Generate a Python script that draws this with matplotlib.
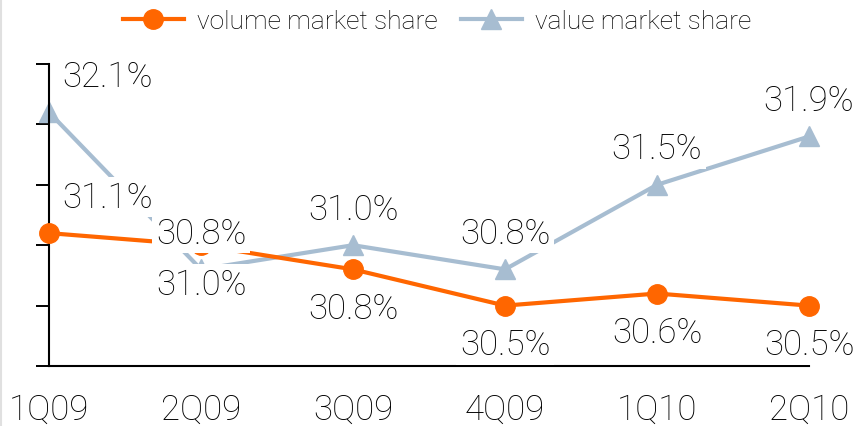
import matplotlib
matplotlib.use("Agg")
import matplotlib.pyplot as plt
from matplotlib.lines import Line2D

# quarters and market share values (%)
quarters = ["1Q09", "2Q09", "3Q09", "4Q09", "1Q10", "2Q10"]
volume_share = [31.1, 31.0, 30.8, 30.5, 30.6, 30.5]
value_share = [32.1, 30.8, 31.0, 30.8, 31.5, 31.9]

ORANGE = "#FF6600"
BLUE = "#A7BDD1"
TEXT = "black"

plt.rcParams["font.family"] = ["Roboto", "DejaVu Sans"]

fig = plt.figure(figsize=(8.57, 4.27), dpi=100)
ax = fig.add_axes([0.0572, 0.1405, 0.8868, 0.7073])

x = list(range(len(quarters)))

ax.plot(x, volume_share, color=ORANGE, lw=3, marker="o", ms=14,
        label="volume market share", clip_on=False, zorder=3)
ax.plot(x, value_share, color=BLUE, lw=3, marker="^", ms=15,
        label="value market share", clip_on=False, zorder=2)

label_kw = dict(textcoords="offset points", ha="center", va="center",
                fontsize=25, fontweight="light", color=TEXT, zorder=5,
                bbox=dict(boxstyle="square,pad=0.1", fc="white", ec="none"))

for i, (vol, val) in enumerate(zip(volume_share, value_share)):
    if i == 0:
        # first quarter: both labels sit above-right of the point
        ax.annotate(f"{vol:.1f}%", (i, vol), xytext=(42, 26), **label_kw)
        ax.annotate(f"{val:.1f}%", (i, val), xytext=(42, 26), **label_kw)
    else:
        ax.annotate(f"{vol:.1f}%", (i, vol), xytext=(0, -28), **label_kw)
        ax.annotate(f"{val:.1f}%", (i, val), xytext=(0, 26), **label_kw)

ax.set_xlim(0, len(quarters) - 1)
ax.set_ylim(30.0, 32.5)
ax.set_yticks([30.0, 30.5, 31.0, 31.5, 32.0, 32.5])
ax.set_yticklabels([])
ax.set_xticks(x)
ax.set_xticklabels(quarters, fontsize=25, fontweight="light", color=TEXT)

ax.tick_params(axis="y", direction="out", length=9.5, width=1.4, color="black")
ax.tick_params(axis="x", length=0, pad=19)

for side in ["top", "right"]:
    ax.spines[side].set_visible(False)
for side in ["left", "bottom"]:
    ax.spines[side].set_linewidth(1.5)
    ax.spines[side].set_color("black")

leg = fig.legend(loc="center", bbox_to_anchor=(0.51, 0.948), ncol=2,
                 frameon=False, handlelength=2.3,
                 handletextpad=0.5, columnspacing=0.9,
                 prop=dict(size=19, weight="light"))
for t in leg.get_texts():
    t.set_color(TEXT)

# thin grey edge on the left of the picture
fig.add_artist(Line2D([0.0015, 0.0015], [0, 1], color="#e0e0e0", lw=1.5,
                      transform=fig.transFigure))

fig.savefig("out.png", dpi=100)
